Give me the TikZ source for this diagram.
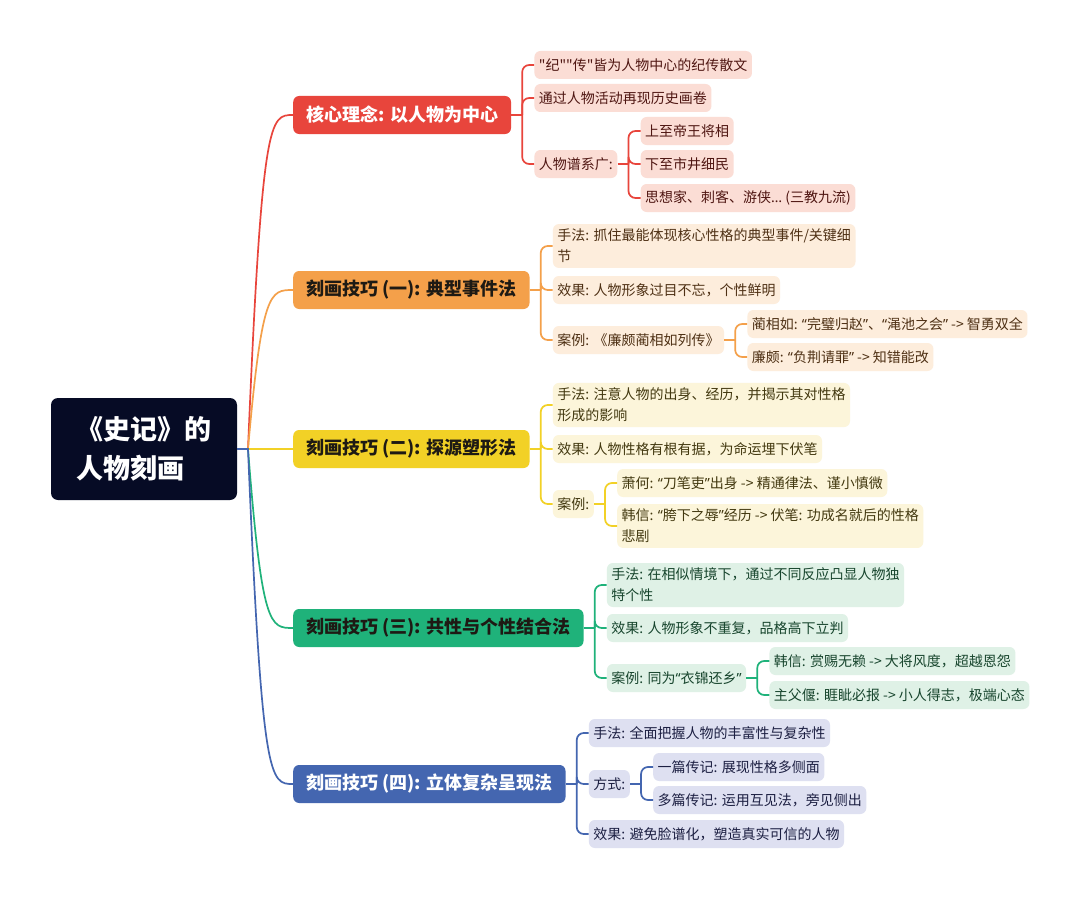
\documentclass[tikz,border=0pt]{standalone}
\usepackage{fontspec}
\newfontfamily\cjk{Noto Sans CJK SC}
\newfontfamily\latn{Noto Sans}
\newcommand\qo{{\latn “}}
\newcommand\qc{{\latn ”}}
\newcommand\qe{{\latn …}}
\usetikzlibrary{positioning,calc}
\definecolor{rootc}{HTML}{060B25}
\definecolor{corec}{HTML}{E8453C}
\definecolor{typc}{HTML}{F4A04A}
\definecolor{srcc}{HTML}{F2D126}
\definecolor{comc}{HTML}{1FB27A}
\definecolor{sterc}{HTML}{4466B0}
\definecolor{corel}{HTML}{FBDDD5}
\definecolor{typl}{HTML}{FDEDDC}
\definecolor{srcl}{HTML}{FCF5DA}
\definecolor{coml}{HTML}{DFF1E6}
\definecolor{sterl}{HTML}{DEE0F1}
\definecolor{coret}{HTML}{4F1612}
\definecolor{typt}{HTML}{4E3014}
\definecolor{srct}{HTML}{433910}
\definecolor{comt}{HTML}{17452D}
\definecolor{stert}{HTML}{1C1F42}
\definecolor{darkt}{HTML}{1E1A14}

\tikzset{
  rootbox/.style={fill=rootc, text=white, rounded corners=7pt, minimum width=186pt,
    minimum height=102pt, align=left, font=\cjk\bfseries\fontsize{27}{39}\selectfont},
  topic/.style={rounded corners=6pt, minimum height=38pt, inner xsep=13pt, anchor=west,
    font=\cjk\bfseries\fontsize{18}{22}\selectfont},
  leaf/.style={rounded corners=6pt, minimum height=28pt, inner xsep=4.5pt, inner ysep=5pt,
    align=left, anchor=west, font=\cjk\fontsize{14}{21}\selectfont},
  stem/.style={line width=1.7pt},
  link/.style={line width=1.7pt, rounded corners=7pt},
}

\begin{document}
\begin{tikzpicture}[x=1pt, y=-1pt]
  \path[fill=white] (0,0) rectangle (1080,899);

  % root and main topics
  \node[rootbox] (root) at (144,449) {《史记》的\\人物刻画};
  \coordinate (hub) at (248,449);

  \node[topic, fill=corec, text=white] (core) at (293,115) {核心理念: 以人物为中心};
  \node[topic, fill=typc, text=darkt] (typ) at (293,290) {刻画技巧 (一): 典型事件法};
  \node[topic, fill=srcc, text=darkt] (src) at (293,449) {刻画技巧 (二): 探源塑形法};
  \node[topic, fill=comc, text=darkt] (com) at (293,628) {刻画技巧 (三): 共性与个性结合法};
  \node[topic, fill=sterc, text=white] (ster) at (293,784) {刻画技巧 (四): 立体复杂呈现法};

  \foreach \m/\c in {core/corec, typ/typc, src/srcc, com/comc, ster/sterc}
    \draw[stem, \c] (root.east) -- (hub) .. controls (262,0 |- \m.west) and (270,0 |- \m.west) .. (\m.west);

  % core
  \path (core.east) ++(11,0) coordinate (coreJ) ++(12,0) coordinate (coreX);
  \node[leaf, fill=corel, text=coret] (coreA) at (coreX |- 0,65) {"纪""传"皆为人物中心的纪传散文};
  \node[leaf, fill=corel, text=coret] (coreB) at (coreX |- 0,98) {通过人物活动再现历史画卷};
  \node[leaf, fill=corel, text=coret] (coreC) at (coreX |- 0,164) {人物谱系广:};
  \path (coreC.east) ++(11,0) coordinate (coreCJ) ++(12,0) coordinate (coreCX);
  \node[leaf, fill=corel, text=coret] (coreC1) at (coreCX |- 0,131) {上至帝王将相};
  \node[leaf, fill=corel, text=coret] (coreC2) at (coreCX |- 0,164) {下至市井细民};
  \node[leaf, fill=corel, text=coret] (coreC3) at (coreCX |- 0,198) {思想家、刺客、游侠\qe{} (三教九流)};

  % typ
  \path (typ.east) ++(11,0) coordinate (typJ) ++(12,0) coordinate (typX);
  \node[leaf, fill=typl, text=typt] (typA) at (typX |- 0,246) {手法: 抓住最能体现核心性格的典型事件/关键细\\节};
  \node[leaf, fill=typl, text=typt] (typB) at (typX |- 0,290) {效果: 人物形象过目不忘，个性鲜明};
  \node[leaf, fill=typl, text=typt] (typC) at (typX |- 0,340) {案例: 《廉颇蔺相如列传》};
  \path (typC.east) ++(11,0) coordinate (typCJ) ++(12,0) coordinate (typCX);
  \node[leaf, fill=typl, text=typt] (typC1) at (typCX |- 0,324) {蔺相如: \qo 完璧归赵\qc、\qo 渑池之会\qc{} -> 智勇双全};
  \node[leaf, fill=typl, text=typt] (typC2) at (typCX |- 0,357) {廉颇: \qo 负荆请罪\qc{} -> 知错能改};

  % src
  \path (src.east) ++(11,0) coordinate (srcJ) ++(12,0) coordinate (srcX);
  \node[leaf, fill=srcl, text=srct] (srcA) at (srcX |- 0,405) {手法: 注意人物的出身、经历，并揭示其对性格\\形成的影响};
  \node[leaf, fill=srcl, text=srct] (srcB) at (srcX |- 0,449) {效果: 人物性格有根有据，为命运埋下伏笔};
  \node[leaf, fill=srcl, text=srct] (srcC) at (srcX |- 0,504) {案例:};
  \path (srcC.east) ++(11,0) coordinate (srcCJ) ++(12,0) coordinate (srcCX);
  \node[leaf, fill=srcl, text=srct] (srcC1) at (srcCX |- 0,483) {萧何: \qo 刀笔吏\qc 出身 -> 精通律法、谨小慎微};
  \node[leaf, fill=srcl, text=srct] (srcC2) at (srcCX |- 0,526) {韩信: \qo 胯下之辱\qc 经历 -> 伏笔: 功成名就后的性格\\悲剧};

  % com
  \path (com.east) ++(11,0) coordinate (comJ) ++(12,0) coordinate (comX);
  \node[leaf, fill=coml, text=comt] (comA) at (comX |- 0,585) {手法: 在相似情境下，通过不同反应凸显人物独\\特个性};
  \node[leaf, fill=coml, text=comt] (comB) at (comX |- 0,628) {效果: 人物形象不重复，品格高下立判};
  \node[leaf, fill=coml, text=comt] (comC) at (comX |- 0,678) {案例: 同为\qo 衣锦还乡\qc};
  \path (comC.east) ++(11,0) coordinate (comCJ) ++(12,0) coordinate (comCX);
  \node[leaf, fill=coml, text=comt] (comC1) at (comCX |- 0,661) {韩信: 赏赐无赖 -> 大将风度，超越恩怨};
  \node[leaf, fill=coml, text=comt] (comC2) at (comCX |- 0,695) {主父偃: 睚眦必报 -> 小人得志，极端心态};

  % ster
  \path (ster.east) ++(11,0) coordinate (sterJ) ++(12,0) coordinate (sterX);
  \node[leaf, fill=sterl, text=stert] (sterA) at (sterX |- 0,733) {手法: 全面把握人物的丰富性与复杂性};
  \node[leaf, fill=sterl, text=stert] (sterB) at (sterX |- 0,784) {方式:};
  \node[leaf, fill=sterl, text=stert] (sterC) at (sterX |- 0,834) {效果: 避免脸谱化，塑造真实可信的人物};
  \path (sterB.east) ++(11,0) coordinate (sterBJ) ++(12,0) coordinate (sterBX);
  \node[leaf, fill=sterl, text=stert] (sterB1) at (sterBX |- 0,767) {一篇传记: 展现性格多侧面};
  \node[leaf, fill=sterl, text=stert] (sterB2) at (sterBX |- 0,800) {多篇传记: 运用互见法，旁见侧出};

  % forks
  \foreach \p/\c/\kids in {core/corec/{coreA,coreB,coreC}, coreC/corec/{coreC1,coreC2,coreC3},
      typ/typc/{typA,typB,typC}, typC/typc/{typC1,typC2},
      src/srcc/{srcA,srcB,srcC}, srcC/srcc/{srcC1,srcC2},
      com/comc/{comA,comB,comC}, comC/comc/{comC1,comC2},
      ster/sterc/{sterA,sterB,sterC}, sterB/sterc/{sterB1,sterB2}} {
    \draw[stem, \c] (\p.east) -- (\p J);
    \foreach \k in \kids
      \draw[link, \c] (\p J) |- (\k.west);
  }
\end{tikzpicture}
\end{document}
